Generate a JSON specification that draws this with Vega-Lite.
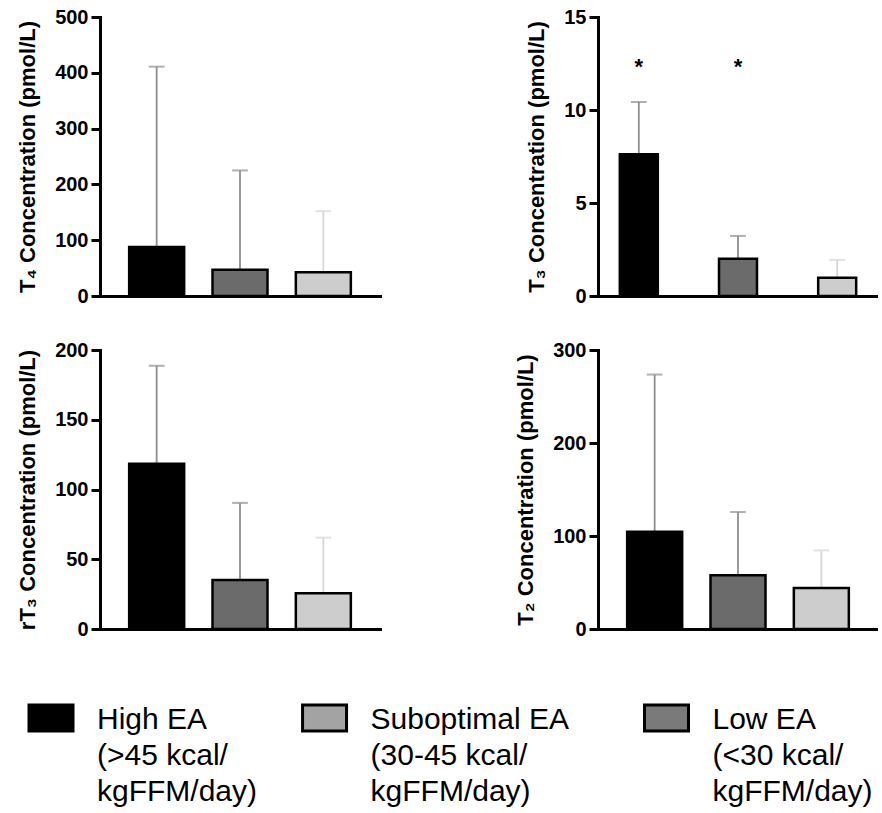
{
  "$schema": "https://vega.github.io/schema/vega-lite/v6.json",
  "padding": {"left": 16, "top": 7, "right": 0, "bottom": 0},
  "background": "white",
  "datasets": {
    "hormones": [
      {"panel": "T4", "group": "High", "mean": 88, "upper": 411, "sig": ""},
      {"panel": "T4", "group": "Suboptimal", "mean": 47, "upper": 225, "sig": ""},
      {"panel": "T4", "group": "Low", "mean": 42.5, "upper": 152, "sig": ""},
      {"panel": "T3", "group": "High", "mean": 7.62, "upper": 10.43, "sig": "*"},
      {"panel": "T3", "group": "Suboptimal", "mean": 2.0, "upper": 3.23, "sig": "*"},
      {"panel": "T3", "group": "Low", "mean": 0.98, "upper": 1.94, "sig": ""},
      {"panel": "rT3", "group": "High", "mean": 118.4, "upper": 188.7, "sig": ""},
      {"panel": "rT3", "group": "Suboptimal", "mean": 35.2, "upper": 90.4, "sig": ""},
      {"panel": "rT3", "group": "Low", "mean": 25.6, "upper": 65.5, "sig": ""},
      {"panel": "T2", "group": "High", "mean": 104.6, "upper": 273.6, "sig": ""},
      {"panel": "T2", "group": "Suboptimal", "mean": 57.8, "upper": 125.8, "sig": ""},
      {"panel": "T2", "group": "Low", "mean": 44.2, "upper": 84.5, "sig": ""}
    ],
    "legendItems": [
      {"key": "High", "label": "High EA\n(>45 kcal/\nkgFFM/day)"},
      {"key": "Suboptimal", "label": "Suboptimal EA\n(30-45 kcal/\nkgFFM/day)"},
      {"key": "Low", "label": "Low EA\n(<30 kcal/\nkgFFM/day)"}
    ]
  },
  "columns": 2,
  "bounds": "flush",
  "spacing": {"row": 54, "column": 218},
  "resolve": {"scale": {"fill": "independent", "stroke": "independent"}},
  "concat": [
    {
      "width": 280, "height": 279,
      "data": {"name": "hormones"},
      "transform": [{"filter": "datum.panel === 'T4'"}],
      "encoding": {
        "x": {"field": "group", "type": "nominal", "sort": ["High", "Suboptimal", "Low"],
              "scale": {"paddingInner": 0.34, "paddingOuter": 0.35}}
      },
      "layer": [
        {"mark": {"type": "rule", "strokeWidth": 1.8},
         "encoding": {
           "y": {"field": "mean", "type": "quantitative", "scale": {"domain": [0, 500], "nice": false},
                 "axis": {"title": "T₄ Concentration (pmol/L)", "values": [0, 100, 200, 300, 400, 500]}},
           "y2": {"field": "upper"},
           "stroke": {"field": "group", "type": "nominal", "scale": {"domain": ["High", "Suboptimal", "Low"], "range": ["#8e8e8e", "#8e8e8e", "#d6d6d6"]}, "legend": null}}},
        {"mark": {"type": "tick", "filled": false, "thickness": 0.2, "size": 14, "strokeWidth": 1.8},
         "encoding": {
           "y": {"field": "upper", "type": "quantitative", "axis": {"title": "T₄ Concentration (pmol/L)"}},
           "stroke": {"field": "group", "type": "nominal", "legend": null}}},
        {"mark": {"type": "bar", "stroke": "black", "strokeWidth": 2.5},
         "encoding": {
           "y": {"field": "mean", "type": "quantitative", "axis": {"title": "T₄ Concentration (pmol/L)"}},
           "fill": {"field": "group", "type": "nominal", "scale": {"domain": ["High", "Suboptimal", "Low"], "range": ["#000000", "#6b6b6b", "#cdcdcd"]}, "legend": null}}}
      ]
    },
    {
      "width": 280, "height": 279,
      "data": {"name": "hormones"},
      "transform": [{"filter": "datum.panel === 'T3'"}],
      "encoding": {
        "x": {"field": "group", "type": "nominal", "sort": ["High", "Suboptimal", "Low"],
              "scale": {"paddingInner": 0.617, "paddingOuter": 0.22}}
      },
      "layer": [
        {"mark": {"type": "rule", "strokeWidth": 1.8},
         "encoding": {
           "y": {"field": "mean", "type": "quantitative", "scale": {"domain": [0, 15], "nice": false},
                 "axis": {"title": "T₃ Concentration (pmol/L)", "values": [0, 5, 10, 15]}},
           "y2": {"field": "upper"},
           "stroke": {"field": "group", "type": "nominal", "scale": {"domain": ["High", "Suboptimal", "Low"], "range": ["#8e8e8e", "#8e8e8e", "#d6d6d6"]}, "legend": null}}},
        {"mark": {"type": "tick", "filled": false, "thickness": 0.2, "size": 14, "strokeWidth": 1.8},
         "encoding": {
           "y": {"field": "upper", "type": "quantitative", "axis": {"title": "T₃ Concentration (pmol/L)"}},
           "stroke": {"field": "group", "type": "nominal", "legend": null}}},
        {"mark": {"type": "bar", "stroke": "black", "strokeWidth": 2.5},
         "encoding": {
           "y": {"field": "mean", "type": "quantitative", "axis": {"title": "T₃ Concentration (pmol/L)"}},
           "fill": {"field": "group", "type": "nominal", "scale": {"domain": ["High", "Suboptimal", "Low"], "range": ["#000000", "#6b6b6b", "#cdcdcd"]}, "legend": null}}},
        {"transform": [{"filter": "datum.sig === '*'"}],
         "mark": {"type": "text", "fontSize": 22, "fontWeight": "bold", "baseline": "middle", "color": "black"},
         "encoding": {
           "y": {"datum": 12.3, "type": "quantitative"},
           "text": {"field": "sig"}}}
      ]
    },
    {
      "width": 280, "height": 279,
      "data": {"name": "hormones"},
      "transform": [{"filter": "datum.panel === 'rT3'"}],
      "encoding": {
        "x": {"field": "group", "type": "nominal", "sort": ["High", "Suboptimal", "Low"],
              "scale": {"paddingInner": 0.34, "paddingOuter": 0.35}}
      },
      "layer": [
        {"mark": {"type": "rule", "strokeWidth": 1.8},
         "encoding": {
           "y": {"field": "mean", "type": "quantitative", "scale": {"domain": [0, 200], "nice": false},
                 "axis": {"title": "rT₃ Concentration (pmol/L)", "values": [0, 50, 100, 150, 200]}},
           "y2": {"field": "upper"},
           "stroke": {"field": "group", "type": "nominal", "scale": {"domain": ["High", "Suboptimal", "Low"], "range": ["#8e8e8e", "#8e8e8e", "#d6d6d6"]}, "legend": null}}},
        {"mark": {"type": "tick", "filled": false, "thickness": 0.2, "size": 14, "strokeWidth": 1.8},
         "encoding": {
           "y": {"field": "upper", "type": "quantitative", "axis": {"title": "rT₃ Concentration (pmol/L)"}},
           "stroke": {"field": "group", "type": "nominal", "legend": null}}},
        {"mark": {"type": "bar", "stroke": "black", "strokeWidth": 2.5},
         "encoding": {
           "y": {"field": "mean", "type": "quantitative", "axis": {"title": "rT₃ Concentration (pmol/L)"}},
           "fill": {"field": "group", "type": "nominal", "scale": {"domain": ["High", "Suboptimal", "Low"], "range": ["#000000", "#6b6b6b", "#cdcdcd"]}, "legend": null}}}
      ]
    },
    {
      "width": 280, "height": 279,
      "data": {"name": "hormones"},
      "transform": [{"filter": "datum.panel === 'T2'"}],
      "encoding": {
        "x": {"field": "group", "type": "nominal", "sort": ["High", "Suboptimal", "Low"],
              "scale": {"paddingInner": 0.34, "paddingOuter": 0.35}}
      },
      "layer": [
        {"mark": {"type": "rule", "strokeWidth": 1.8},
         "encoding": {
           "y": {"field": "mean", "type": "quantitative", "scale": {"domain": [0, 300], "nice": false},
                 "axis": {"title": "T₂ Concentration (pmol/L)", "values": [0, 100, 200, 300]}},
           "y2": {"field": "upper"},
           "stroke": {"field": "group", "type": "nominal", "scale": {"domain": ["High", "Suboptimal", "Low"], "range": ["#8e8e8e", "#8e8e8e", "#d6d6d6"]}, "legend": null}}},
        {"mark": {"type": "tick", "filled": false, "thickness": 0.2, "size": 14, "strokeWidth": 1.8},
         "encoding": {
           "y": {"field": "upper", "type": "quantitative", "axis": {"title": "T₂ Concentration (pmol/L)"}},
           "stroke": {"field": "group", "type": "nominal", "legend": null}}},
        {"mark": {"type": "bar", "stroke": "black", "strokeWidth": 2.5},
         "encoding": {
           "y": {"field": "mean", "type": "quantitative", "axis": {"title": "T₂ Concentration (pmol/L)"}},
           "fill": {"field": "group", "type": "nominal", "scale": {"domain": ["High", "Suboptimal", "Low"], "range": ["#000000", "#6b6b6b", "#cdcdcd"]}, "legend": null}}}
      ]
    },
    {
      "width": 280, "height": 70,
      "data": {"name": "legendItems"},
      "encoding": {
        "x": {"field": "key", "type": "nominal",
              "scale": {"type": "point", "padding": 0, "range": [-49, 566.5],
                        "domain": ["High", "gap1", "gap2", "gap3", "Suboptimal", "gap4", "gap5", "gap6", "gap7", "Low"]},
              "axis": null}
      },
      "layer": [
        {"mark": {"type": "point", "shape": "M-1,-0.59H1V0.59H-1Z", "size": 1936, "filled": true, "stroke": "black", "strokeWidth": 3, "opacity": 1},
         "encoding": {
           "fill": {"field": "key", "type": "nominal", "scale": {"domain": ["High", "Suboptimal", "Low"], "range": ["#000000", "#a3a3a3", "#7a7a7a"]}, "legend": null}}},
        {"mark": {"type": "text", "align": "left", "baseline": "alphabetic", "dx": 46, "dy": 11, "fontSize": 30, "lineHeight": 36, "lineBreak": "\n", "color": "black", "font": "Liberation Sans"},
         "encoding": {"text": {"field": "label"}}}
      ]
    }
  ],
  "config": {
    "font": "Liberation Sans",
    "view": {"stroke": null},
    "axis": {"grid": false, "domainColor": "black", "domainWidth": 3, "domainCap": "square", "tickColor": "black", "labelColor": "black", "titleColor": "black"},
    "axisX": {"labels": false, "ticks": false, "title": null},
    "axisY": {"tickSize": 9, "tickWidth": 3, "labelFontSize": 20, "labelFontWeight": "bold", "labelPadding": 3, "titleFontSize": 22, "titleFontWeight": "bold", "titlePadding": 15}
  }
}
